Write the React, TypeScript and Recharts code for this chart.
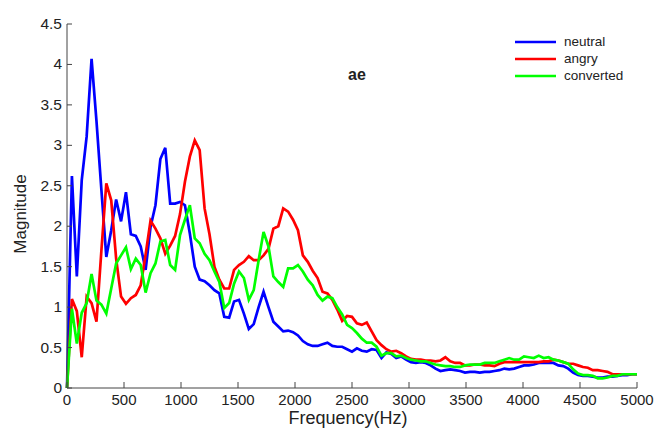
import { LineChart, Line, XAxis, YAxis } from "recharts";

// magnitude spectra, one value per FFT bin (0..5000 Hz, 117 bins)
const NEUTRAL = [
  0, 2.62, 1.38, 2.57, 3.11, 4.07, 3.3, 2.45, 1.62, 1.95,
  2.33, 2.06, 2.42, 1.9, 1.88, 1.75, 1.46, 1.99, 2.26, 2.83,
  2.97, 2.28, 2.28, 2.3, 2.26, 1.91, 1.5, 1.34, 1.32, 1.27,
  1.21, 1.17, 0.88, 0.87, 1.07, 1.09, 0.92, 0.73, 0.79, 1.0,
  1.19, 1.0, 0.82, 0.76, 0.7, 0.71, 0.69, 0.65, 0.58, 0.54,
  0.52, 0.52, 0.54, 0.56, 0.52, 0.51, 0.51, 0.48, 0.45, 0.49,
  0.46, 0.45, 0.48, 0.47, 0.37, 0.44, 0.42, 0.37, 0.39, 0.35,
  0.32, 0.31, 0.32, 0.31, 0.28, 0.24, 0.21, 0.22, 0.23, 0.22,
  0.21, 0.19, 0.2, 0.2, 0.19, 0.2, 0.2, 0.21, 0.22, 0.24,
  0.23, 0.24, 0.26, 0.28, 0.28, 0.29, 0.31, 0.31, 0.31, 0.31,
  0.28, 0.27, 0.24, 0.19, 0.16, 0.15, 0.15, 0.14, 0.13, 0.13,
  0.14, 0.14, 0.15, 0.16, 0.16, 0.17, 0.17,
];

const ANGRY = [
  0, 1.1, 0.95, 0.38, 1.13, 1.05, 0.82, 1.7, 2.53, 2.32,
  1.6, 1.13, 1.04, 1.11, 1.15, 1.27, 1.65, 2.07, 1.97, 1.85,
  1.66, 1.76, 1.88, 2.15, 2.55, 2.86, 3.06, 2.94, 2.22, 1.9,
  1.5, 1.34, 1.23, 1.23, 1.46, 1.52, 1.56, 1.63, 1.58, 1.58,
  1.64, 1.72, 1.97, 2.0, 2.22, 2.18, 2.08, 1.95, 1.64, 1.56,
  1.45, 1.36, 1.19, 1.17, 1.09, 0.97, 0.83, 0.89, 0.88, 0.8,
  0.78, 0.81, 0.7, 0.59, 0.53, 0.48, 0.45, 0.46, 0.43, 0.39,
  0.36, 0.35, 0.35, 0.34, 0.34, 0.33, 0.34, 0.38, 0.33, 0.31,
  0.31, 0.28, 0.28, 0.29, 0.29, 0.28, 0.28, 0.27, 0.3, 0.32,
  0.32, 0.32, 0.32, 0.32, 0.32, 0.32, 0.32, 0.33, 0.33, 0.35,
  0.34, 0.32, 0.3, 0.3, 0.28, 0.26, 0.25, 0.22, 0.22, 0.21,
  0.2, 0.17, 0.17, 0.17, 0.17, 0.17, 0.17,
];

const CONVERTED = [
  0, 0.98, 0.55, 0.93, 1.05, 1.41, 1.08, 1.03, 0.92, 1.23,
  1.54, 1.64, 1.74, 1.47, 1.6, 1.52, 1.18, 1.42, 1.54, 1.81,
  1.83, 1.52, 1.46, 1.89, 2.08, 2.26, 1.85, 1.79, 1.66, 1.58,
  1.44, 1.31, 0.99, 1.05, 1.29, 1.44, 1.36, 1.09, 1.21, 1.58,
  1.93, 1.75, 1.38, 1.31, 1.25, 1.48, 1.48, 1.52, 1.44, 1.34,
  1.27, 1.15, 1.08, 1.13, 1.11, 1.0, 0.91, 0.78, 0.74, 0.68,
  0.61, 0.56, 0.56, 0.51, 0.4, 0.43, 0.43, 0.39, 0.4, 0.37,
  0.35, 0.34, 0.33, 0.33, 0.31, 0.29, 0.28, 0.27, 0.27, 0.26,
  0.26, 0.28, 0.29, 0.29, 0.29, 0.31, 0.31, 0.31, 0.33, 0.35,
  0.37, 0.35, 0.35, 0.39, 0.38, 0.37, 0.4, 0.37, 0.38, 0.35,
  0.34, 0.32, 0.3, 0.23, 0.18, 0.16, 0.16, 0.15, 0.12, 0.12,
  0.13, 0.15, 0.15, 0.17, 0.17, 0.17, 0.17,
];

const X_TICKS = [0, 500, 1000, 1500, 2000, 2500, 3000, 3500, 4000, 4500, 5000];
const Y_TICKS = [0, 0.5, 1, 1.5, 2, 2.5, 3, 3.5, 4, 4.5];

const SERIES = [
  { key: "neutral", color: "#0000ff" },
  { key: "angry", color: "#ff0000" },
  { key: "converted", color: "#00ff00" },
];

const BIN_HZ = 5000 / (NEUTRAL.length - 1);

const data = NEUTRAL.map((v, i) => ({
  freq: i * BIN_HZ,
  neutral: v,
  angry: ANGRY[i],
  converted: CONVERTED[i],
}));

const FONT = "'Liberation Sans', Arial, Helvetica, sans-serif";
const AXIS = "#444";
const TXT = "#222";

const XTick = ({ x, y, payload }: any) => (
  <g>
    <line x1={x} x2={x} y1={y} y2={y - 6} stroke={AXIS} strokeWidth={1} />
    <text x={x} y={y + 17} textAnchor="middle" fontSize={15} fill={TXT} fontFamily={FONT}>
      {payload.value}
    </text>
  </g>
);

const YTick = ({ x, y, payload }: any) => (
  <g>
    <line x1={x} x2={x + 5} y1={y} y2={y} stroke={AXIS} strokeWidth={1} />
    <text x={x - 5} y={y + 5} textAnchor="end" fontSize={15.5} fill={TXT} fontFamily={FONT}>
      {payload.value}
    </text>
  </g>
);

export default function App() {
  return (
    <div style={{ position: "absolute", left: 0, top: 0, width: 659, height: 430, background: "#fff" }}>
      <LineChart
        width={659}
        height={430}
        data={data}
        margin={{ top: 24, right: 22, left: 0, bottom: 0 }}
      >
        <XAxis
          dataKey="freq"
          type="number"
          domain={[0, 5000]}
          ticks={X_TICKS}
          height={42}
          tickSize={0}
          tickMargin={0}
          tickLine={false}
          axisLine={{ stroke: AXIS, strokeWidth: 1 }}
          tick={<XTick />}
          interval={0}
          label={{
            content: () => (
              <text x={348} y={424} textAnchor="middle" fontSize={18} fill={TXT} fontFamily={FONT}>
                Frequency(Hz)
              </text>
            ),
          }}
        />
        <YAxis
          type="number"
          domain={[0, 4.5]}
          ticks={Y_TICKS}
          width={67}
          tickSize={0}
          tickMargin={0}
          tickLine={false}
          axisLine={{ stroke: AXIS, strokeWidth: 1 }}
          tick={<YTick />}
          interval={0}
          label={{
            content: () => (
              <text
                transform="translate(26,214) rotate(-90)"
                textAnchor="middle"
                fontSize={17}
                fill={TXT}
                fontFamily={FONT}
              >
                Magnitude
              </text>
            ),
          }}
        />
        {SERIES.map((s) => (
          <Line
            key={s.key}
            type="linear"
            dataKey={s.key}
            stroke={s.color}
            strokeWidth={2.7}
            dot={false}
            activeDot={false}
            isAnimationActive={false}
          />
        ))}
      </LineChart>
      {/* legend, MATLAB style without a box */}
      <div style={{ position: "absolute", left: 515, top: 34, fontFamily: FONT, fontSize: 13.5, color: TXT }}>
        {SERIES.map((s) => (
          <div key={s.key} style={{ display: "flex", alignItems: "center", height: 16.7 }}>
            <svg width={41} height={6} style={{ display: "block" }}>
              <line x1={0} x2={41} y1={3} y2={3} stroke={s.color} strokeWidth={2.7} />
            </svg>
            <span style={{ marginLeft: 8, lineHeight: "16px" }}>{s.key}</span>
          </div>
        ))}
      </div>
      <div
        style={{
          position: "absolute",
          left: 357,
          top: 66,
          transform: "translateX(-50%)",
          fontFamily: FONT,
          fontWeight: "bold",
          fontSize: 16,
          color: TXT,
        }}
      >
        ae
      </div>
    </div>
  );
}
